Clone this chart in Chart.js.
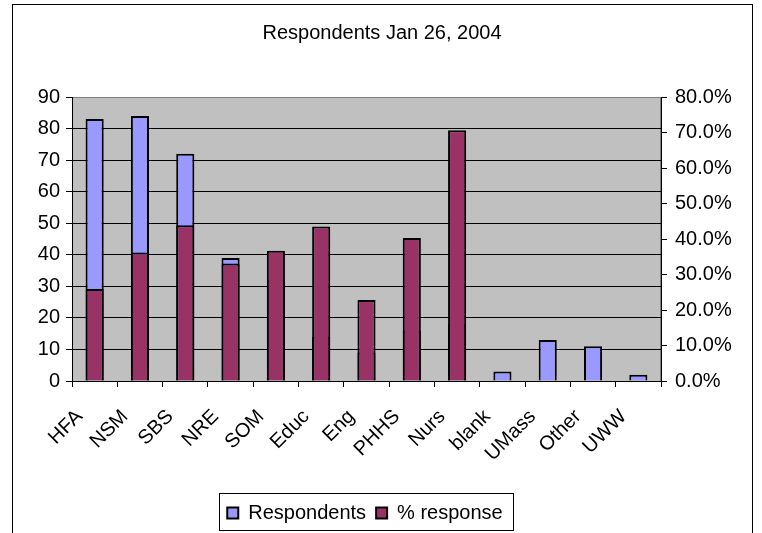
<!DOCTYPE html>
<html>
<head>
<meta charset="utf-8">
<script src="https://cdn.jsdelivr.net/npm/chart.js@4/dist/chart.umd.min.js"></script>
<style>
  html, body { margin: 0; padding: 0; background: #fff; }
  #wrap { width: 762px; height: 533px; }
</style>
</head>
<body>
<div id="wrap"><canvas id="chart" width="762" height="533"></canvas></div>
<script>
// Data
const schools = ['HFA', 'NSM', 'SBS', 'NRE', 'SOM', 'Educ', 'Eng', 'PHHS', 'Nurs', 'blank', 'UMass', 'Other', 'UWW'];
const respondents = [83, 84, 72, 39, 32, 14, 9, 16, 18, 3, 13, 11, 2];
const pctResponse = [25.9, 36.2, 43.9, 33.1, 36.7, 43.5, 22.8, 40.3, 70.6, null, null, null, null];
const leftTicks = [0, 90, 10];   // min, max, step
const rightTicks = [0, 80, 10];

const FONT = 'Liberation Sans, Arial, sans-serif';

// Gray plot area, outer frame, legend frame, label nudges
const excelLook = {
  id: 'excelLook',
  afterLayout(chart) {
    // legend sits a little left of centre in the original
    const lg = chart.legend;
    lg.left -= 17;
    lg.right -= 17;
    lg.adjustHitBoxes();
  },
  beforeDraw(chart) {
    const { ctx, chartArea: a } = chart;
    // rotated category labels hang lower/left like Excel does it
    const items = chart.scales.x.getLabelItems(a);
    if (!items._nudged) {
      items.forEach(it => {
        it.options.translation = [it.options.translation[0] - 15, it.options.translation[1] + 14];
      });
      items._nudged = true;
    }
    ctx.save();
    ctx.fillStyle = '#fff';
    ctx.fillRect(0, 0, chart.width, chart.height);
    ctx.strokeStyle = '#000';
    ctx.lineWidth = 1;
    ctx.strokeRect(12.5, 4.5, 740, 560);
    ctx.fillStyle = '#C0C0C0';
    ctx.fillRect(a.left, a.top, a.right - a.left, a.bottom - a.top);
    ctx.strokeStyle = '#808080';
    ctx.strokeRect(a.left + 0.5, a.top + 0.5, a.right - a.left - 1, a.bottom - a.top);
    ctx.restore();
  },
  afterDraw(chart) {
    const lg = chart.legend;
    if (!lg || !lg.legendHitBoxes.length) return;
    const boxes = lg.legendHitBoxes;
    const first = boxes[0], last = boxes[boxes.length - 1];
    const x0 = Math.round(first.left - 8) + 0.5;
    const x1 = Math.round(last.left + last.width + 10) + 0.5;
    const y0 = Math.round(lg.top) + 0.5;
    const y1 = Math.round(lg.top + 37) + 0.5;
    const ctx = chart.ctx;
    ctx.save();
    ctx.strokeStyle = '#000';
    ctx.lineWidth = 1;
    ctx.strokeRect(x0, y0, x1 - x0, y1 - y0);
    ctx.restore();
  }
};

new Chart(document.getElementById('chart'), {
  type: 'bar',
  data: {
    labels: schools,
    datasets: [
      {
        label: 'Respondents',
        data: respondents,
        yAxisID: 'y',
        backgroundColor: '#9999FF',
        borderColor: '#000',
        borderWidth: 2,
        grouped: false,
        order: 1
      },
      {
        label: '% response',
        data: pctResponse,
        yAxisID: 'y1',
        backgroundColor: '#993366',
        borderColor: '#000',
        borderWidth: 2,
        grouped: false,
        order: 0
      }
    ]
  },
  options: {
    responsive: false,
    animation: false,
    barPercentage: 0.4,
    categoryPercentage: 1.0,
    layout: { padding: { left: 12, right: 10, top: 4, bottom: 0 } },
    plugins: {
      title: {
        display: true,
        text: 'Respondents Jan 26, 2004',
        color: '#000',
        font: { family: FONT, size: 20, weight: 'normal' },
        padding: { top: 17, bottom: 52 }
      },
      legend: {
        position: 'bottom',
        labels: {
          color: '#000',
          font: { family: FONT, size: 20 },
          boxWidth: 11,
          boxHeight: 11,
          padding: 10,
          sort: (a, b) => a.datasetIndex - b.datasetIndex
        }
      },
      tooltip: { enabled: false }
    },
    scales: {
      x: {
        grid: {
          offset: true,
          drawOnChartArea: false,
          drawTicks: true,
          tickLength: 6,
          tickColor: '#000'
        },
        border: { display: true, color: '#000', width: 1 },
        ticks: {
          color: '#000',
          font: { family: FONT, size: 20 },
          minRotation: 45,
          maxRotation: 45,
          autoSkip: false,
          padding: 4
        },
        afterFit(scale) { scale.height = 112; }
      },
      y: {
        position: 'left',
        min: leftTicks[0],
        max: leftTicks[1],
        ticks: {
          stepSize: leftTicks[2],
          color: '#000',
          font: { family: FONT, size: 20 },
          padding: 6
        },
        grid: {
          color: ctx => ctx.tick.value === leftTicks[1] ? '#808080' : '#000',
          lineWidth: 1,
          drawTicks: true,
          tickLength: 6,
          tickColor: '#000'
        },
        border: { display: true, color: '#000', width: 1 },
        afterFit(scale) { scale.width = 60; }
      },
      y1: {
        position: 'right',
        min: rightTicks[0],
        max: rightTicks[1],
        ticks: {
          stepSize: rightTicks[2],
          color: '#000',
          font: { family: FONT, size: 20 },
          padding: 8,
          callback: v => v.toFixed(1) + '%'
        },
        grid: {
          drawOnChartArea: false,
          drawTicks: true,
          tickLength: 6,
          tickColor: '#000'
        },
        border: { display: true, color: '#000', width: 1 },
        afterFit(scale) { scale.width = 91; }
      }
    }
  },
  plugins: [excelLook]
});
</script>
</body>
</html>
